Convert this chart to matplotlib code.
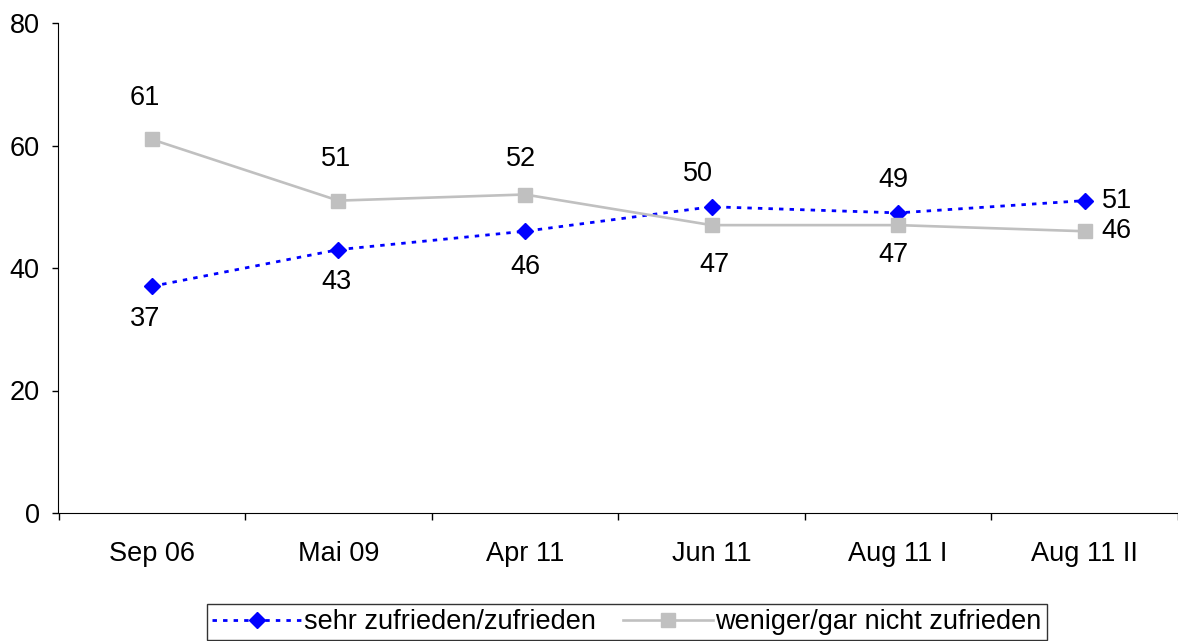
import matplotlib.pyplot as plt

plt.rcParams["font.family"] = ["Liberation Sans", "DejaVu Sans"]

categories = ["Sep 06", "Mai 09", "Apr 11", "Jun 11", "Aug 11 I", "Aug 11 II"]
zufrieden = [37, 43, 46, 50, 49, 51]
nicht_zufrieden = [61, 51, 52, 47, 47, 46]
y_ticks = [0, 20, 40, 60, 80]

# label offsets in pixels (dx, dy) per point
blue_offsets = [(-7, -33), (-2, -32), (0, -36), (-14, 33), (-5, 33), (32, 0)]
gray_offsets = [(-7, 41), (-2, 42), (-4, 36), (3, -40), (-5, -30), (32, 0)]


def main():
    fig = plt.figure(figsize=(11.78, 6.41), dpi=100)
    ax = fig.add_axes([58.5 / 1178, 1 - 513 / 641, 1 - 58.5 / 1178, 490 / 641])

    x = list(range(len(categories)))
    ax.plot(x, zufrieden, color="#0000FF", lw=2, dashes=(1.6, 2.2),
            marker="D", markersize=8.5, label="sehr zufrieden/zufrieden")
    ax.plot(x, nicht_zufrieden, color="#C0C0C0", lw=1.9,
            marker="s", markersize=10.5, label="weniger/gar nicht zufrieden")

    for xi, v, off in zip(x, zufrieden, blue_offsets):
        ax.annotate(str(v), (xi, v), xytext=off, textcoords="offset pixels",
                    ha="center", va="center", fontsize=19.5)
    for xi, v, off in zip(x, nicht_zufrieden, gray_offsets):
        ax.annotate(str(v), (xi, v), xytext=off, textcoords="offset pixels",
                    ha="center", va="center", fontsize=19.5)

    ax.set_xlim(-0.5, len(categories) - 0.5)
    ax.set_ylim(0, 80)
    ax.set_yticks(y_ticks)
    ax.tick_params(axis="y", length=4.5, width=1, pad=9, labelsize=19.5)
    ax.set_xticks(x)
    ax.set_xticklabels(categories)
    ax.set_xticks([i - 0.5 for i in range(len(categories) + 1)], minor=True)
    ax.tick_params(axis="x", which="major", length=0, pad=20, labelsize=19.5)
    ax.tick_params(axis="x", which="minor", length=5, width=1)

    ax.spines["top"].set_visible(False)
    ax.spines["right"].set_visible(False)

    leg = fig.legend(loc="center", bbox_to_anchor=(627 / 1178, 1 - 622 / 641),
                     ncol=2, fontsize=19.5, frameon=True, fancybox=False,
                     edgecolor="black", handlelength=3.3, handletextpad=0.1,
                     columnspacing=1.0, borderpad=0.2, borderaxespad=0)
    leg.get_frame().set_linewidth(1)

    fig.savefig("out.png", dpi=100)


if __name__ == "__main__":
    main()
